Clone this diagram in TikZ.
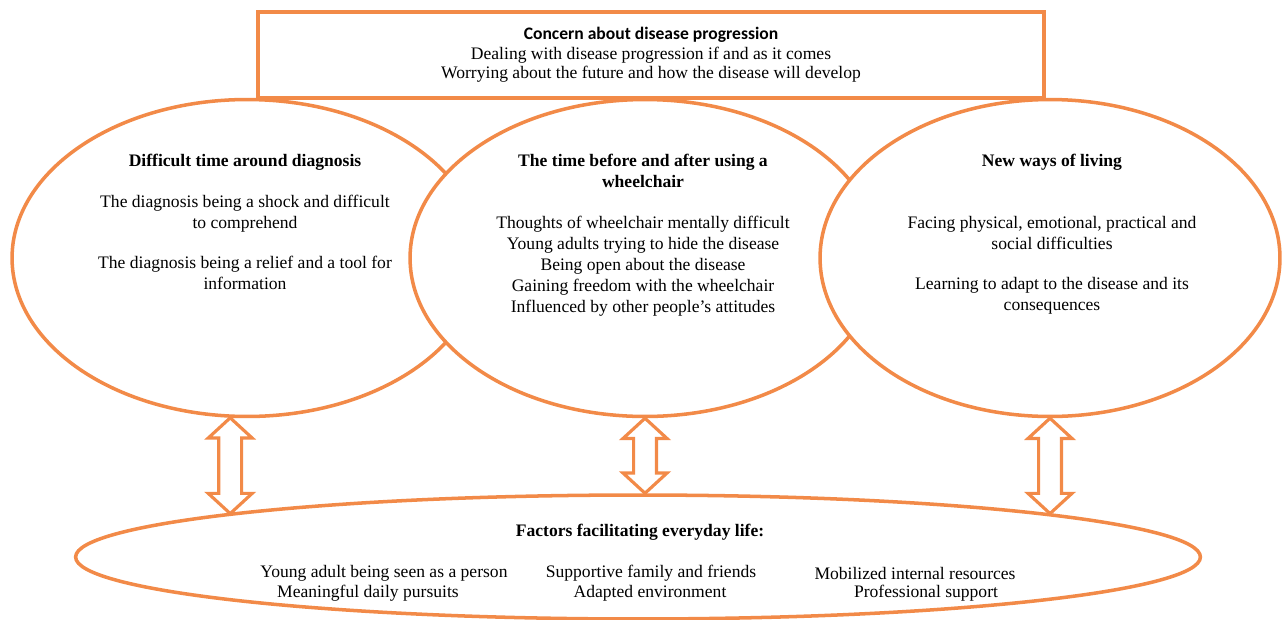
\documentclass[tikz,border=0pt]{standalone}
\usepackage{fontspec}
\setmainfont{Liberation Serif}
\newfontfamily\calibrifont{Carlito}
\usetikzlibrary{%
    shapes.geometric,%
    calc%
}

\definecolor{orangeline}{RGB}{242,138,72}

\begin{document}
\begin{tikzpicture}[
    x=0.02cm, y=-0.02cm,
    theme/.style={ellipse,draw=orangeline,line width=2pt,fill=white,
                  inner sep=0pt,minimum width=9.4cm,minimum height=6.34cm},
    frame/.style={draw=orangeline,line width=2pt,align=center,
                  minimum width=15.72cm,minimum height=1.72cm,
                  font=\fontsize{10}{11}\selectfont},
    themetext/.style={anchor=north,align=center,inner sep=0pt},
    item/.style={inner sep=0pt},
    % The hollow double arrow is built by the to path itself,
    % from the x of its start point and the y of both ends.
    fatarrow/.style={draw=orangeline,line width=1.8pt,fill=white,
        to path={let \p1=(\tikztostart), \p2=(\tikztotarget) in
            (\x1,\y1) -- (\x1+12.5pt,\y1-11.5pt) -- (\x1+6.5pt,\y1-11.5pt)
            -- (\x1+6.5pt,\y2+11.5pt) -- (\x1+12.5pt,\y2+11.5pt) -- (\x1,\y2)
            -- (\x1-12.5pt,\y2+11.5pt) -- (\x1-6.5pt,\y2+11.5pt)
            -- (\x1-6.5pt,\y1-11.5pt) -- (\x1-12.5pt,\y1-11.5pt) -- cycle}},
    ]

    \useasboundingbox (0,0) rectangle (1283,619);

    % Three themes, each one covering the right side of the one before
    \node[theme] (diag) at (247,258) {};
    \node[theme] (wheel) at (645,258) {};
    \node[theme,minimum width=9.2cm] (living) at (1050,258) {};

    % Overall concern
    \node[frame] (concern) at (651,55)
        {{\calibrifont\bfseries Concern about disease progression}\\
         Dealing with disease progression if and as it comes\\
         Worrying about the future and how the disease will develop};

    % Theme texts
    \node[themetext] (diagtext) at (245,154)
        {\textbf{Difficult time around diagnosis}\\[11pt]
         The diagnosis being a shock and difficult\\ to comprehend\\[11pt]
         The diagnosis being a relief and a tool for\\ information};
    \node[themetext] (wheeltext) at (643,154)
        {\textbf{The time before and after using a}\\ \textbf{wheelchair}\\[11pt]
         Thoughts of wheelchair mentally difficult\\
         Young adults trying to hide the disease\\
         Being open about the disease\\
         Gaining freedom with the wheelchair\\
         Influenced by other people's attitudes};
    \node[themetext] (livingtext) at (1052,154)
        {\textbf{New ways of living}\\[23pt]
         Facing physical, emotional, practical and\\ social difficulties\\[11pt]
         Learning to adapt to the disease and its\\ consequences};

    % Facilitating factors
    \node[theme,minimum width=22.5cm,minimum height=2.48cm] (factors) at (638,557) {};
    \node[item] (factorstitle) at (640,532) {\textbf{Factors facilitating everyday life:}};
    \node[item] (person)    at (384,573) {Young adult being seen as a person};
    \node[item] (pursuits)  at (368,593) {Meaningful daily pursuits};
    \node[item] (family)    at (651,573) {Supportive family and friends};
    \node[item] (adapted)   at (650,593) {Adapted environment};
    \node[item] (resources) at (915,573) {Mobilized internal resources};
    \node[item] (support)   at (926,593) {Professional support};

    % Links between themes and factors
    \draw[fatarrow] (diag.264) to (factors.174);
    \draw[fatarrow] (wheel.south) to (factors.north);
    \draw[fatarrow] (living.south) to (factors.6);
\end{tikzpicture}
\end{document}
